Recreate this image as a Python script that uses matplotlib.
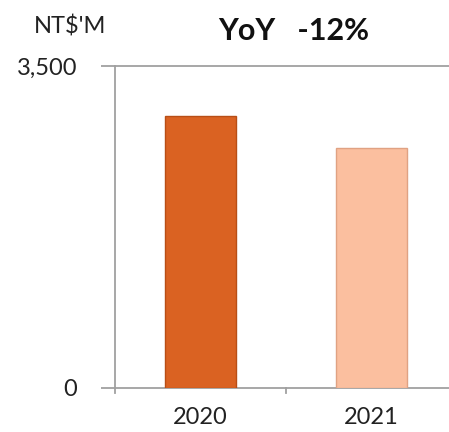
import matplotlib
matplotlib.use("Agg")
import matplotlib.pyplot as plt

categories = ["2020", "2021"]
values = [2957, 2609]
bar_colors = ["#DA6222", "#FBBF9F"]
edge_colors = ["#B84E16", "#E0A283"]
y_ticks = [0, 3500]
y_tick_labels = ["0", "3,500"]
title = "YoY   -12%"
unit = "NT$'M"

plt.rcParams['font.family'] = ['Lato', 'DejaVu Sans']

W, H = 449, 432
fig = plt.figure(figsize=(W / 100, H / 100), dpi=100)
ax = fig.add_axes([115 / W, 1 - 388 / H, (W - 115) / W, (388 - 66) / H])

x = list(range(len(categories)))
ax.bar(x, values, width=0.415, color=bar_colors, edgecolor=edge_colors, linewidth=1.0, zorder=3)

ax.set_ylim(0, 3500)
ax.set_xlim(-0.5, -0.5 + (W - 115) / 171)
ax.set_yticks(y_ticks)
ax.set_yticklabels(y_tick_labels, fontsize=17, color="#222222")
ax.set_xticks(x)
ax.set_xticklabels(categories, fontsize=17, color="#222222")
ax.tick_params(axis='x', length=0, pad=14)
ax.tick_params(axis='y', length=10, width=1.3, color="#A0A0A0", pad=17)
for xb in [-0.5, 0.5, 1.5]:
    ax.plot([xb, xb], [0, -0.015 * 3500], color="#A0A0A0", lw=1.3, clip_on=False, zorder=4)
ax.axhline(3500, color="#A0A0A0", lw=1.3, clip_on=False, zorder=2)

for s in ['top', 'right']:
    ax.spines[s].set_visible(False)
for s in ['left', 'bottom']:
    ax.spines[s].set_color("#A0A0A0")
    ax.spines[s].set_linewidth(1.3)

fig.text(70 / W, 1 - 27 / H, unit, fontsize=17, ha='center', va='center', color="#222222")
fig.text(294 / W, 1 - 31 / H, title, fontsize=22, fontweight='bold', ha='center', va='center', color="#111111")

fig.savefig("out.png", dpi=100)
